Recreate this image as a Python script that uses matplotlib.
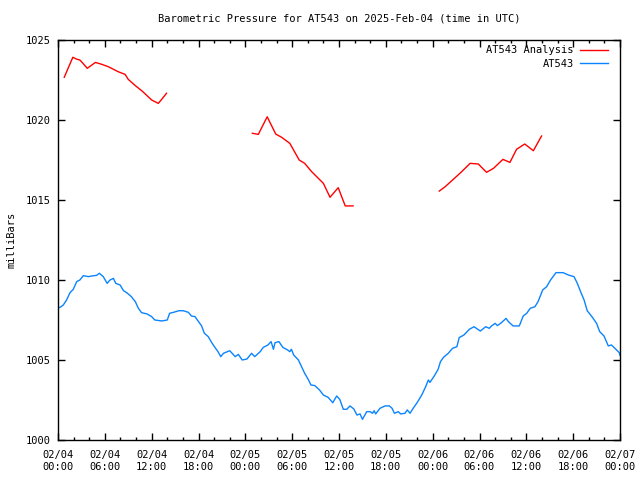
import numpy as np
import pandas as pd
import matplotlib
matplotlib.use("Agg")
import matplotlib.pyplot as plt
import matplotlib.dates as mdates

# ── Data (hours since 2025-02-04 00:00 UTC, pressure in mbar) ────────────────
start = pd.Timestamp("2025-02-04 00:00")

ana_hours = [0.8, 1.9, 2.4, 2.8, 3.2, 3.75, 4.8, 5.6, 6.45, 7.7, 8.6, 9.0, 9.9,
             10.8, 12.0, 12.85, 13.3, 13.9, np.nan,
             24.9, 25.66, 26.8, 27.9, 28.65, 29.7, 30.9, 31.6, 32.5, 34.0,
             34.85, 35.9, 36.8, 37.8, np.nan,
             48.85, 49.6, 51.5, 52.8, 53.85, 54.9, 55.8, 57.0, 57.9, 58.75,
             59.8, 60.9, 61.95]
ana_press = [1022.67, 1023.92, 1023.8, 1023.75, 1023.54, 1023.23, 1023.6,
             1023.48, 1023.33, 1023.02, 1022.85, 1022.54, 1022.15, 1021.8,
             1021.25, 1021.04, 1021.3, 1021.67, np.nan,
             1019.17, 1019.1, 1020.2, 1019.12, 1018.92, 1018.54, 1017.5,
             1017.29, 1016.77, 1016.04, 1015.17, 1015.77, 1014.63, 1014.63,
             np.nan,
             1015.56, 1015.83, 1016.67, 1017.29, 1017.25, 1016.73, 1016.98,
             1017.54, 1017.35, 1018.17, 1018.5, 1018.08, 1019.0]

obs_hours = [0.0, 0.26, 0.68, 1.1, 1.54, 1.96, 2.4, 2.8, 3.25, 3.9, 4.3, 4.95,
             5.3, 5.8, 6.3, 6.66, 7.1, 7.4, 7.95, 8.4, 8.8, 9.4, 9.9, 10.3,
             10.7, 11.4, 12.0, 12.4, 13.3, 14.0, 14.3, 14.8, 15.5, 16.05,
             16.7, 17.1, 17.55, 18.0, 18.4, 18.75, 19.25, 19.7, 20.1, 20.5,
             20.85, 21.2, 22.0, 22.7, 23.1, 23.6, 24.2, 24.8, 25.2, 25.9,
             26.3, 26.9, 27.3, 27.6, 27.8, 28.3, 28.8, 29.4, 29.7, 29.9, 30.2,
             30.8, 31.2, 31.6, 32.1, 32.4, 32.9, 33.5, 34.0, 34.6, 35.2, 35.7,
             36.1, 36.55, 37.0, 37.4, 37.9, 38.3, 38.7, 39.0, 39.55, 40.0,
             40.3, 40.5, 40.7, 41.25, 41.9, 42.45, 42.8, 43.1, 43.6, 43.9,
             44.45, 44.75, 45.1, 45.5, 46.0, 46.6, 47.1, 47.45, 47.65, 48.2,
             48.7, 49.0, 49.4, 50.0, 50.55, 51.1, 51.4, 52.0, 52.7, 53.3,
             54.1, 54.8, 55.25, 55.55, 56.0, 56.3, 56.8, 57.4, 57.7, 58.3,
             59.1, 59.6, 60.05, 60.5, 61.1, 61.5, 62.1, 62.6, 63.1, 63.8,
             64.7, 65.4, 66.1, 66.5, 66.95, 67.4, 67.8, 68.4, 69.0, 69.4,
             69.95, 70.5, 70.9, 71.35, 71.9, 72.0]
obs_press = [1008.25, 1008.29, 1008.44, 1008.75, 1009.21, 1009.42, 1009.9,
             1010.0, 1010.27, 1010.21, 1010.25, 1010.29, 1010.42, 1010.21,
             1009.79, 1010.0, 1010.1, 1009.79, 1009.69, 1009.33, 1009.21,
             1008.96, 1008.65, 1008.23, 1007.96, 1007.88, 1007.71, 1007.5,
             1007.44, 1007.5, 1007.92, 1007.98, 1008.08, 1008.08, 1007.98,
             1007.75, 1007.71, 1007.4, 1007.13, 1006.67, 1006.46, 1006.08,
             1005.79, 1005.52, 1005.21, 1005.42, 1005.58, 1005.21, 1005.35,
             1005.0, 1005.06, 1005.42, 1005.21, 1005.52, 1005.79, 1005.94,
             1006.15, 1005.67, 1006.08, 1006.15, 1005.79, 1005.63, 1005.52,
             1005.67, 1005.31, 1005.0, 1004.58, 1004.17, 1003.75, 1003.44,
             1003.4, 1003.13, 1002.81, 1002.67, 1002.33, 1002.75, 1002.54,
             1001.92, 1001.92, 1002.13, 1001.94, 1001.56, 1001.63, 1001.29,
             1001.77, 1001.77, 1001.67, 1001.83, 1001.63, 1001.98, 1002.13,
             1002.13, 1001.98, 1001.67, 1001.77, 1001.63, 1001.67, 1001.88,
             1001.67, 1001.98, 1002.33, 1002.81, 1003.33, 1003.75, 1003.6,
             1004.0, 1004.42, 1004.9, 1005.17, 1005.42, 1005.73, 1005.83,
             1006.4, 1006.56, 1006.92, 1007.08, 1006.81, 1007.08, 1006.98,
             1007.13, 1007.29, 1007.15, 1007.33, 1007.6, 1007.4, 1007.13,
             1007.13, 1007.75, 1007.92, 1008.23, 1008.33, 1008.65, 1009.38,
             1009.58, 1010.0, 1010.46, 1010.46, 1010.31, 1010.21, 1009.83,
             1009.27, 1008.75, 1008.08, 1007.71, 1007.29, 1006.77, 1006.5,
             1005.88, 1005.94, 1005.73, 1005.46, 1005.3]

ana_t = start + pd.to_timedelta(np.array(ana_hours), unit="h")
obs_t = start + pd.to_timedelta(np.array(obs_hours), unit="h")

# ── Plot ──────────────────────────────────────────────────────────────────────
plt.rcParams["font.family"] = "DejaVu Sans Mono"
plt.rcParams["font.size"] = 7.5

fig = plt.figure(figsize=(6.4, 4.8), dpi=100)
ax = fig.add_axes([58 / 640, 40 / 480, 562 / 640, 400 / 480])

ax.plot(ana_t, ana_press, color="#ff0000", linewidth=1.0, label="AT543 Analysis")
ax.plot(obs_t, obs_press, color="#0a84ff", linewidth=1.0, label="AT543")

ax.set_xlim(start, start + pd.Timedelta(hours=72))
ax.set_ylim(1000, 1025)
ax.set_yticks([1000, 1005, 1010, 1015, 1020, 1025])

ax.xaxis.set_major_locator(mdates.HourLocator(byhour=[0, 6, 12, 18]))
ax.xaxis.set_minor_locator(mdates.HourLocator(byhour=range(0, 24, 2)))
ax.xaxis.set_major_formatter(mdates.DateFormatter("%m/%d\n%H:%M"))

ax.tick_params(which="both", direction="in", top=True, right=True, width=1)
ax.tick_params(which="major", length=5, pad=5)
ax.tick_params(axis="x", which="major", pad=7)
ax.tick_params(which="minor", length=2.5)
for lbl in ax.get_xticklabels():
    lbl.set_linespacing(1.3)
for s in ax.spines.values():
    s.set_linewidth(1.0)

ax.set_title("Barometric Pressure for AT543 on 2025-Feb-04 (time in UTC)",
             fontsize=7.5, pad=13)
ax.set_ylabel("milliBars", labelpad=7)

ax.legend(loc="upper right", bbox_to_anchor=(1 - 6.5 / 562, 1.0),
          frameon=False, markerfirst=False,
          handlelength=2.7, handletextpad=0.6, borderaxespad=0.1,
          labelspacing=0.35, fontsize=7.5)

fig.savefig("out.png", dpi=100)
plt.close(fig)
